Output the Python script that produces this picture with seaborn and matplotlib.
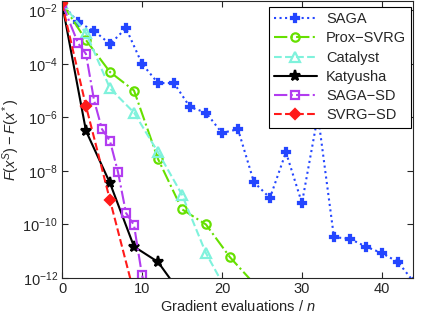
import numpy as np
import pandas as pd
import seaborn as sns
import matplotlib
matplotlib.use("Agg")
import matplotlib.pyplot as plt

# values (y on log scale)
saga_x = [0, 2, 4, 6, 8, 10, 12, 14, 16, 18, 20, 22, 24, 26, 28, 30, 32, 34, 36, 38, 40, 42, 44]
saga_y = [1.8e-2, 3.5e-3, 1.7e-3, 5.4e-4, 2.1e-3, 1.0e-4, 1.9e-5, 1.9e-5, 2.4e-6, 1.5e-6,
          2.6e-7, 3.6e-7, 3.8e-9, 9.8e-10, 5.0e-8, 6.3e-10, 1.2e-6, 3.4e-11, 2.9e-11,
          1.5e-11, 8.5e-12, 4.0e-12, 7.1e-13]

prox_x = [0, 3, 6, 9, 12, 15, 18, 21, 24]
prox_y = [1.8e-2, 7.6e-4, 4.9e-5, 1.0e-5, 2.8e-8, 3.7e-10, 1.0e-10, 6.0e-12, 6.3e-13]

cat_x = [0, 3, 6, 9, 12, 15, 18, 21]
cat_y = [1.8e-2, 1.4e-3, 1.2e-5, 1.5e-6, 5.0e-8, 1.3e-9, 8.5e-12, 2.0e-13]

katy_x = [0, 3, 6, 9, 12, 15]
katy_y = [1.8e-2, 3.1e-7, 3.5e-9, 1.5e-11, 4.0e-12, 2.3e-13]

sagasd_x = [0, 2, 3, 4, 5, 6, 7, 8, 9, 10, 11]
sagasd_y = [1.8e-2, 5.9e-4, 2.3e-4, 4.4e-6, 3.6e-7, 1.3e-7, 9.1e-9, 2.7e-10, 9.5e-11, 1.3e-12, 1.0e-13]

svrgsd_x = [0, 3, 6, 9]
svrgsd_y = [1.8e-2, 2.6e-6, 8.1e-10, 2.8e-13]

sns.set_style("ticks")
plt.rcParams['font.family'] = ['Liberation Sans', 'DejaVu Sans']
plt.rcParams['mathtext.fontset'] = 'custom'
plt.rcParams['mathtext.rm'] = 'Liberation Sans'
plt.rcParams['mathtext.it'] = 'Liberation Sans:italic'

fig = plt.figure(figsize=(4.23, 3.16), dpi=100)
ax = fig.add_axes([0.1466, 0.12, 0.83, 0.877])

blue, green, cyan = "#2446ff", "#66e000", "#7ff2dc"
purple, red = "#b23cf0", "#ff1a1a"

series = [
    ("SAGA", saga_x, saga_y, blue, ":", "P", 5.5, blue),
    ("Prox\u2212SVRG", prox_x, prox_y, green, "-.", "o", 6, "none"),
    ("Catalyst", cat_x, cat_y, cyan, "--", "^", 7, "none"),
    ("Katyusha", katy_x, katy_y, "black", "-", "*", 8, "black"),
    ("SAGA\u2212SD", sagasd_x, sagasd_y, purple, "-.", "s", 6, "none"),
    ("SVRG\u2212SD", svrgsd_x, svrgsd_y, red, "--", "D", 5.5, red),
]

for name, xs, ys, c, ls, mk, ms, fc in series:
    sns.lineplot(x=xs, y=ys, ax=ax, label=name, color=c, linestyle=ls, linewidth=1.5,
                 marker=mk, markersize=ms, markerfacecolor=fc, markeredgecolor=c,
                 markeredgewidth=1.6)

ax.set_yscale("log")
ax.set_xlim(0, 43.9)
ax.set_ylim(1e-12, 2.2e-2)
ax.set_xticks([0, 10, 20, 30, 40])
ax.set_yticks([1e-2, 1e-4, 1e-6, 1e-8, 1e-10, 1e-12])
ax.minorticks_off()
ax.tick_params(direction="in", top=True, right=True, labelsize=10.5, length=4, pad=3)
for s in ax.spines.values():
    s.set_linewidth(0.8)

ax.set_xlabel("Gradient evaluations / $n$", fontsize=10.5, labelpad=2)
ax.set_ylabel("$F(x^S) - F(x^*)$", fontsize=10.5, labelpad=0)

leg = ax.legend(loc="upper right", bbox_to_anchor=(0.995, 0.978), fontsize=10.5, frameon=True,
                fancybox=False, edgecolor="black", handlelength=3.0, borderpad=0.35,
                labelspacing=0.36, handletextpad=0.6, borderaxespad=0.0)
leg.get_frame().set_linewidth(0.8)
leg.get_frame().set_alpha(1)

fig.savefig("out.png", dpi=100)
